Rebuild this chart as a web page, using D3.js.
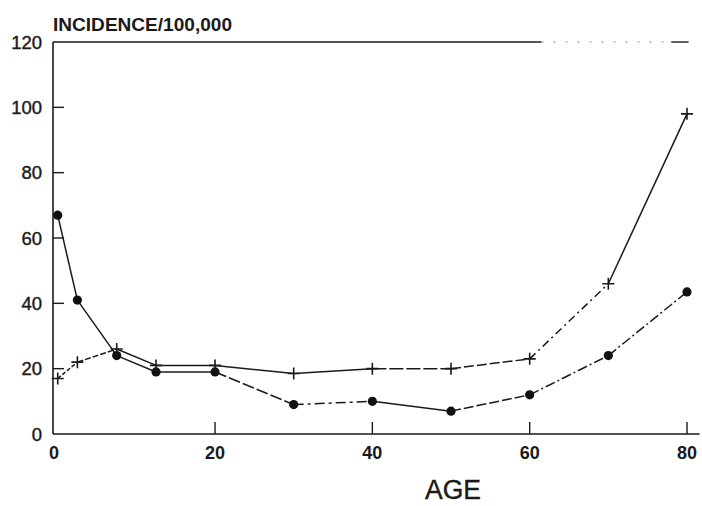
<!DOCTYPE html>
<html>
<head>
<meta charset="utf-8">
<script src="https://cdn.jsdelivr.net/npm/d3@7"></script>
<style>
  body { margin: 0; background: #fff; }
  svg { display: block; font-family: "Liberation Sans", Arial, sans-serif; }
</style>
</head>
<body>
<div id="chart"></div>
<script>
// data
const ages = [0, 2.5, 7.5, 12.5, 20, 30, 40, 50, 60, 70, 80];
const circleSeries = [67, 41, 24, 19, 19, 9, 10, 7, 12, 24, 43.5];
const plusSeries = [17, 22, 26, 21, 21, 18.5, 20, 20, 23, 46, 98];
const xTicks = [20, 40, 60, 80];
const xLabels = [0, 20, 40, 60, 80];
const yTicks = [20, 40, 60, 80, 100];
const yLabels = [0, 20, 40, 60, 80, 100, 120];

// per-segment dash styles (the print looks broken in places)
const plusDash = ["4 2", "6 2", null, null, null, null, "14 3", "10 3", "8 4 2 4", null];
const circleDash = [null, null, null, null, "12 3", "10 4 3 4", null, "10 3", "10 3 2 3", "10 3 2 3"];

const width = 702, height = 506;
const ink = "#1a1a1a";

const svg = d3.select("#chart").append("svg")
  .attr("width", width)
  .attr("height", height);

const x = d3.scaleLinear().domain([-0.6, 80]).range([53, 687]);
const y = d3.scaleLinear().domain([0, 120]).range([434, 42]);

// frame: left axis, bottom axis, top line
svg.append("line")
  .attr("x1", x(-0.6)).attr("x2", x(-0.6))
  .attr("y1", y(0)).attr("y2", y(120))
  .attr("stroke", ink).attr("stroke-width", 1.6);

svg.append("line")
  .attr("x1", x(-0.6)).attr("x2", x(81.6))
  .attr("y1", y(0)).attr("y2", y(0))
  .attr("stroke", ink).attr("stroke-width", 1.6);

svg.append("line")
  .attr("x1", x(-0.6)).attr("x2", x(61.5))
  .attr("y1", y(120)).attr("y2", y(120))
  .attr("stroke", ink).attr("stroke-width", 1.4);
svg.append("line")
  .attr("x1", x(61.5)).attr("x2", x(78))
  .attr("y1", y(120)).attr("y2", y(120))
  .attr("stroke", "#888").attr("stroke-width", 1.2)
  .attr("stroke-dasharray", "2 10");
svg.append("line")
  .attr("x1", x(78)).attr("x2", x(80.2))
  .attr("y1", y(120)).attr("y2", y(120))
  .attr("stroke", ink).attr("stroke-width", 1.4);

// ticks, drawn inward
svg.append("g")
  .selectAll("line")
  .data(yTicks)
  .join("line")
  .attr("x1", x(-0.6)).attr("x2", x(-0.6) + 11)
  .attr("y1", (d) => y(d)).attr("y2", (d) => y(d))
  .attr("stroke", ink).attr("stroke-width", 1.4);

svg.append("g")
  .selectAll("line")
  .data(xTicks)
  .join("line")
  .attr("x1", (d) => x(d)).attr("x2", (d) => x(d))
  .attr("y1", y(0)).attr("y2", y(0) - 12)
  .attr("stroke", ink).attr("stroke-width", 1.4);

// tick labels
svg.append("g")
  .selectAll("text")
  .data(yLabels)
  .join("text")
  .attr("x", 42)
  .attr("y", (d) => y(d) + 6.5)
  .attr("text-anchor", "end")
  .attr("font-size", 18.5)
  .attr("fill", ink)
  .attr("stroke", ink)
  .attr("stroke-width", 0.4)
  .text((d) => d);

svg.append("g")
  .selectAll("text")
  .data(xLabels)
  .join("text")
  .attr("x", (d) => (d === 0 ? x(-0.6) + 1 : x(d)))
  .attr("y", 459)
  .attr("text-anchor", "middle")
  .attr("font-size", 18)
  .attr("font-weight", "bold")
  .attr("fill", ink)
  .text((d) => d);

// titles
svg.append("text")
  .attr("x", 53)
  .attr("y", 31)
  .attr("font-size", 19)
  .attr("font-weight", "bold")
  .attr("textLength", 179)
  .attr("lengthAdjust", "spacingAndGlyphs")
  .attr("fill", ink)
  .text("INCIDENCE/100,000");

svg.append("text")
  .attr("x", 453)
  .attr("y", 499)
  .attr("text-anchor", "middle")
  .attr("font-size", 27)
  .attr("textLength", 56)
  .attr("lengthAdjust", "spacingAndGlyphs")
  .attr("fill", ink)
  .attr("stroke", ink)
  .attr("stroke-width", 0.4)
  .text("AGE");

// line segments
function segments(values, dashes) {
  return values.slice(0, -1).map((v, i) => ({
    x1: ages[i], y1: v, x2: ages[i + 1], y2: values[i + 1], dash: dashes[i]
  }));
}

function drawSeries(values, dashes) {
  svg.append("g")
    .selectAll("line")
    .data(segments(values, dashes))
    .join("line")
    .attr("x1", (d) => x(d.x1)).attr("y1", (d) => y(d.y1))
    .attr("x2", (d) => x(d.x2)).attr("y2", (d) => y(d.y2))
    .attr("stroke", ink)
    .attr("stroke-width", 1.5)
    .attr("stroke-dasharray", (d) => d.dash);
}

drawSeries(circleSeries, circleDash);
drawSeries(plusSeries, plusDash);

// markers
svg.append("g")
  .selectAll("circle")
  .data(circleSeries)
  .join("circle")
  .attr("cx", (d, i) => x(ages[i]))
  .attr("cy", (d) => y(d))
  .attr("r", 4.6)
  .attr("fill", "#111");

svg.append("g")
  .selectAll("path")
  .data(plusSeries)
  .join("path")
  .attr("transform", (d, i) => `translate(${ x(ages[i]) },${ y(d) })`)
  .attr("d", "M-6,0H6M0,-6V6")
  .attr("stroke", ink)
  .attr("stroke-width", 1.6)
  .attr("fill", "none");
</script>
</body>
</html>
